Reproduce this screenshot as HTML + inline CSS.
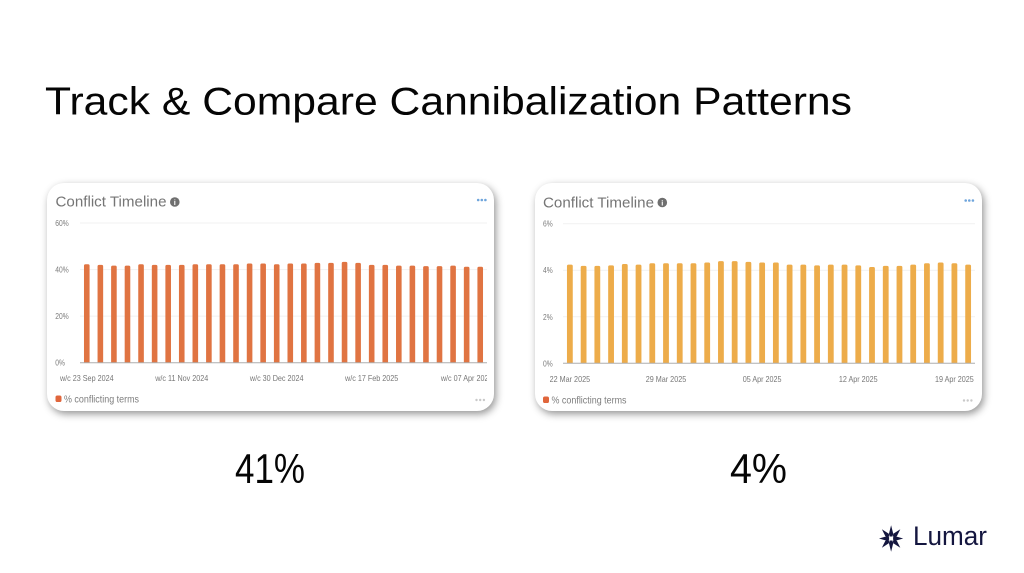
<!DOCTYPE html>
<html lang="en">
<head>
<meta charset="utf-8">
<title>Track &amp; Compare Cannibalization Patterns</title>
<style>
  html, body { margin: 0; padding: 0; background: #fff; }
  #slide { position: relative; width: 1024px; height: 573px; overflow: hidden; background: #fff; font-family: "Liberation Sans", sans-serif; }
  .card { position: absolute; top: 183px; width: 447px; height: 228px; background: #fff; border-radius: 17px; box-shadow: 2px 3px 8px rgba(0,0,0,.42); }
  #overlay { position: absolute; left: 0; top: 0; }
  .soft { filter: blur(0.35px); }
  text { font-family: "Liberation Sans", sans-serif; }
</style>
</head>
<body>
<div id="slide">
  <div class="card" style="left:47px"></div>
  <div class="card" style="left:535px"></div>
  <svg id="overlay" width="1024" height="573" viewBox="0 0 1024 573" xmlns="http://www.w3.org/2000/svg">
    <defs>
      <clipPath id="clip-left"><rect x="47" y="183" width="440" height="228"/></clipPath>
      <clipPath id="clip-right"><rect x="535" y="183" width="440" height="228"/></clipPath>
    </defs>
    <text x="45" y="114.5" font-size="39" fill="#050505" textLength="807" lengthAdjust="spacingAndGlyphs">Track &amp; Compare Cannibalization Patterns</text>

    <g class="soft">
      <text x="55.5" y="206.5" font-size="15" fill="#757575" textLength="111" lengthAdjust="spacingAndGlyphs">Conflict Timeline</text>
      <circle cx="174.8" cy="202" r="4.8" fill="#6f6f6f"/>
      <text x="174.8" y="205" font-size="7.5" font-weight="bold" fill="#fff" text-anchor="middle">i</text>
      <g fill="#6fa5dc">
        <circle cx="478.2" cy="200" r="1.3"/><circle cx="481.8" cy="200" r="1.3"/><circle cx="485.4" cy="200" r="1.3"/>
      </g>
      <rect x="55.5" y="395.5" width="6" height="6.5" rx="1.8" fill="#e0663c"/>
      <text x="64" y="402.3" font-size="10" fill="#7d7d7d" textLength="75" lengthAdjust="spacingAndGlyphs">% conflicting terms</text>
      <g fill="#c9c9c9">
        <circle cx="476.5" cy="400" r="1.2"/><circle cx="480.2" cy="400" r="1.2"/><circle cx="483.9" cy="400" r="1.2"/>
      </g>
    </g>
    <g class="soft">
      <text x="543" y="207.5" font-size="15" fill="#757575" textLength="111" lengthAdjust="spacingAndGlyphs">Conflict Timeline</text>
      <circle cx="662.3" cy="202.5" r="4.8" fill="#6f6f6f"/>
      <text x="662.3" y="205.5" font-size="7.5" font-weight="bold" fill="#fff" text-anchor="middle">i</text>
      <g fill="#6fa5dc">
        <circle cx="965.7" cy="200.5" r="1.3"/><circle cx="969.3" cy="200.5" r="1.3"/><circle cx="972.9" cy="200.5" r="1.3"/>
      </g>
      <rect x="543" y="396.5" width="6" height="6.5" rx="1.8" fill="#e0663c"/>
      <text x="551.5" y="403.3" font-size="10" fill="#7d7d7d" textLength="75" lengthAdjust="spacingAndGlyphs">% conflicting terms</text>
      <g fill="#c9c9c9">
        <circle cx="964" cy="400.5" r="1.2"/><circle cx="967.7" cy="400.5" r="1.2"/><circle cx="971.4" cy="400.5" r="1.2"/>
      </g>
    </g>

    <g id="chart-left" class="soft" clip-path="url(#clip-left)"></g>
    <g id="chart-right" class="soft" clip-path="url(#clip-right)"></g>

    <text x="235" y="483" font-size="42" fill="#050505" textLength="70" lengthAdjust="spacingAndGlyphs">41%</text>
    <text x="730" y="483" font-size="42" fill="#050505" textLength="57" lengthAdjust="spacingAndGlyphs">4%</text>

    <g>
      <g fill="#14163f" transform="translate(2.3 -0.5)">
        <polygon points="888.8,525.8 891,534.5 890,537 887.6,537 886.6,534.5"/>
        <polygon points="888.8,552.2 891,543.5 890,541 887.6,541 886.6,543.5"/>
        <polygon points="876.7,539 884.5,536.8 886.8,537.8 886.8,540.2 884.5,541.2"/>
        <polygon points="900.9,539 893,536.8 890.8,537.8 890.8,540.2 893,541.2"/>
        <polygon points="879.6,529.8 886.5,534.2 887,537 885.2,537.8 883,536.6"/>
        <polygon points="898,529.8 891,534.2 890.5,537 892.4,537.8 894.6,536.6"/>
        <polygon points="879.6,548.2 886.5,543.8 887,541 885.2,540.2 883,541.4"/>
        <polygon points="898,548.2 891,543.8 890.5,541 892.4,540.2 894.6,541.4"/>
      </g>
      <text x="913" y="545" font-size="26.5" fill="#14163f" textLength="74" lengthAdjust="spacingAndGlyphs">Lumar</text>
    </g>
  </svg>
</div>
<script>
var leftCategories = ["w/c 23 Sep 2024","w/c 30 Sep 2024","w/c 07 Oct 2024","w/c 14 Oct 2024","w/c 21 Oct 2024","w/c 28 Oct 2024","w/c 04 Nov 2024","w/c 11 Nov 2024","w/c 18 Nov 2024","w/c 25 Nov 2024","w/c 02 Dec 2024","w/c 09 Dec 2024","w/c 16 Dec 2024","w/c 23 Dec 2024","w/c 30 Dec 2024","w/c 06 Jan 2025","w/c 13 Jan 2025","w/c 20 Jan 2025","w/c 27 Jan 2025","w/c 03 Feb 2025","w/c 10 Feb 2025","w/c 17 Feb 2025","w/c 24 Feb 2025","w/c 03 Mar 2025","w/c 10 Mar 2025","w/c 17 Mar 2025","w/c 24 Mar 2025","w/c 31 Mar 2025","w/c 07 Apr 2025","w/c 14 Apr 2025"];
var leftValues = [42.3,42.0,41.7,41.7,42.3,42.0,42.0,42.0,42.3,42.3,42.3,42.3,42.6,42.6,42.3,42.6,42.6,42.9,42.9,43.3,42.9,42.0,42.0,41.7,41.7,41.5,41.5,41.7,41.2,41.2];
var leftTicks = [0,20,40,60];

var rightCategories = ["22 Mar 2025","23 Mar 2025","24 Mar 2025","25 Mar 2025","26 Mar 2025","27 Mar 2025","28 Mar 2025","29 Mar 2025","30 Mar 2025","31 Mar 2025","01 Apr 2025","02 Apr 2025","03 Apr 2025","04 Apr 2025","05 Apr 2025","06 Apr 2025","07 Apr 2025","08 Apr 2025","09 Apr 2025","10 Apr 2025","11 Apr 2025","12 Apr 2025","13 Apr 2025","14 Apr 2025","15 Apr 2025","16 Apr 2025","17 Apr 2025","18 Apr 2025","19 Apr 2025","20 Apr 2025"];
var rightValues = [4.24,4.19,4.19,4.21,4.27,4.24,4.30,4.30,4.30,4.30,4.33,4.39,4.39,4.36,4.33,4.33,4.24,4.24,4.21,4.24,4.24,4.21,4.14,4.19,4.19,4.24,4.30,4.33,4.30,4.24];
var rightTicks = [0,2,4,6];

var SVG_NS = "http://www.w3.org/2000/svg";

function narrow(textEl, factor) {
  var natural = textEl.getComputedTextLength();
  textEl.setAttribute("textLength", natural * factor);
  textEl.setAttribute("lengthAdjust", "spacingAndGlyphs");
}

function drawChart(root, prefix, categories, values, ticks, frame) {
  var yMax = ticks[ticks.length - 1];
  function yScale(v) { return frame.bottom - (v / yMax) * (frame.bottom - frame.top); }
  var band = (frame.right - frame.left) / categories.length;
  function xScale(i) { return frame.left + band * (i + 0.5); }

  ticks.forEach(function (t) {
    var y = yScale(t);
    if (t !== 0) {
      var grid = document.createElementNS(SVG_NS, "line");
      
      
      grid.setAttribute("x1", frame.left);
      grid.setAttribute("x2", frame.right);
      grid.setAttribute("y1", y);
      grid.setAttribute("y2", y);
      grid.setAttribute("stroke", "#f1f1f1");
      grid.setAttribute("stroke-width", "1");
      root.appendChild(grid);
    }
    var label = document.createElementNS(SVG_NS, "text");
    
    
    label.setAttribute("x", frame.tickX);
    label.setAttribute("y", y + 3);
    label.setAttribute("font-size", "8.4");
    label.setAttribute("fill", "#7a7a7a");
    label.textContent = t + "%";
    root.appendChild(label);
    narrow(label, 0.8);
  });

  values.forEach(function (v, i) {
    var top = yScale(v);
    var bar = document.createElementNS(SVG_NS, "path");
    
    
    var l = xScale(i) - frame.barWidth / 2;
    var r = xScale(i) + frame.barWidth / 2;
    bar.setAttribute("d", "M" + l + " " + frame.bottom + "V" + (top + 1.5) + "Q" + l + " " + top + " " + (l + 1.5) + " " + top + "H" + (r - 1.5) + "Q" + r + " " + top + " " + r + " " + (top + 1.5) + "V" + frame.bottom + "Z");
    bar.setAttribute("fill", frame.color);
    root.appendChild(bar);
  });

  var axis = document.createElementNS(SVG_NS, "line");
  
  
  axis.setAttribute("x1", frame.left);
  axis.setAttribute("x2", frame.right);
  axis.setAttribute("y1", frame.bottom);
  axis.setAttribute("y2", frame.bottom);
  axis.setAttribute("stroke", "#adadad");
  axis.setAttribute("stroke-width", "1");
  root.appendChild(axis);

  categories.forEach(function (c, i) {
    if (i % 7 !== 0) { return; }
    var tick = document.createElementNS(SVG_NS, "text");
    
    
    tick.setAttribute("x", xScale(i));
    tick.setAttribute("y", frame.labelY);
    tick.setAttribute("font-size", "8.4");
    tick.setAttribute("fill", "#777777");
    tick.setAttribute("text-anchor", "middle");
    tick.textContent = c;
    root.appendChild(tick);
    narrow(tick, 0.86);
  });
}

drawChart(document.getElementById("chart-left"), "left", leftCategories, leftValues, leftTicks,
  { left: 80, right: 487, top: 223, bottom: 362.7, tickX: 55.3, labelY: 381, barWidth: 5.6, color: "#e07442" });
drawChart(document.getElementById("chart-right"), "right", rightCategories, rightValues, rightTicks,
  { left: 563, right: 975, top: 223.7, bottom: 363.3, tickX: 543, labelY: 382, barWidth: 5.8, color: "#edac4a" });
</script>
</body>
</html>
